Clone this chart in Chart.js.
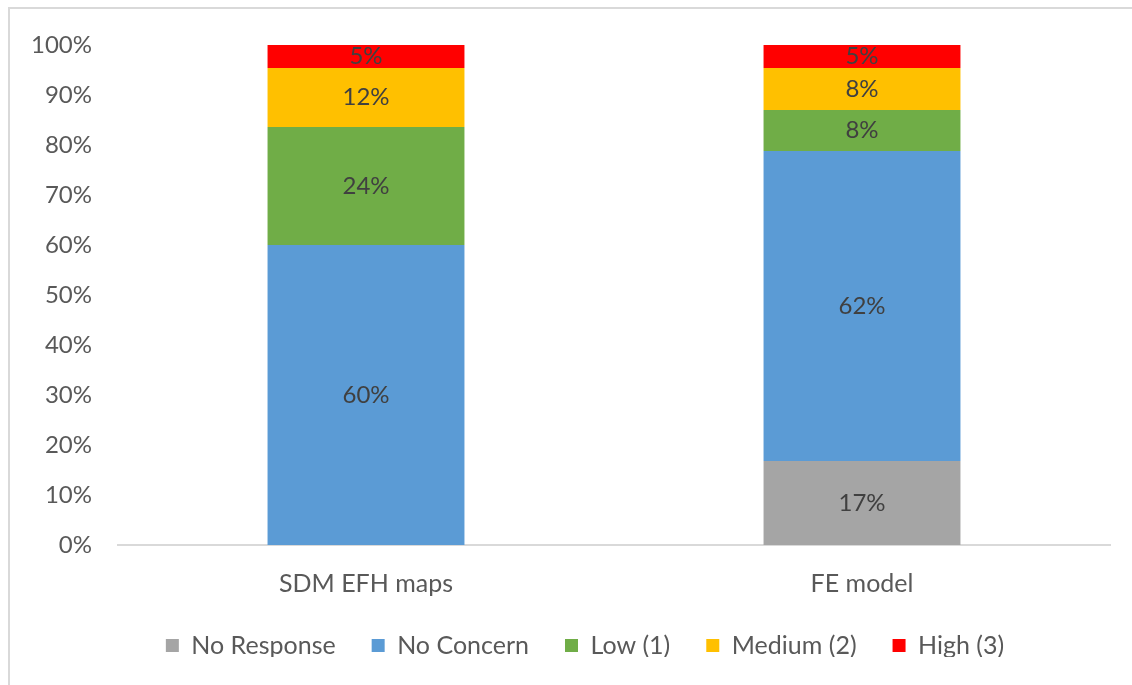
<!DOCTYPE html>
<html>
<head>
<meta charset="utf-8">
<script src="https://cdn.jsdelivr.net/npm/chart.js@4.4.1/dist/chart.umd.min.js"></script>
<style>
  html, body { margin: 0; padding: 0; background: #fff; overflow: hidden; }
  #wrap { position: relative; width: 1132px; height: 685px; }
  #frame { position: absolute; left: 8px; top: 7px; width: 1200px; height: 800px; border: 2px solid #d9d9d9; box-sizing: border-box; }
  canvas { position: absolute; left: 0; top: 0; }
</style>
</head>
<body>
<div id="wrap">
  <div id="frame"></div>
  <canvas id="c" width="1132" height="685"></canvas>
</div>
<script>
const categories = ["SDM EFH maps", "FE model"];
const seriesNames = ["No Response", "No Concern", "Low (1)", "Medium (2)", "High (3)"];
const noResponse = [0, 16.8];
const noConcern = [60.0, 62.0];
const low1 = [23.6, 8.2];
const medium2 = [11.8, 8.4];
const high3 = [4.6, 4.6];
const yTicks = [0, 10, 20, 30, 40, 50, 60, 70, 80, 90, 100];

const colors = ["#A5A5A5", "#5B9BD5", "#70AD47", "#FFC000", "#FF0000"];
const seriesValues = [noResponse, noConcern, low1, medium2, high3];
const FONT = "Lato, 'Open Sans', sans-serif";

const valueLabels = {
  id: 'valueLabels',
  afterDatasetsDraw(chart) {
    const ctx = chart.ctx;
    ctx.save();
    ctx.font = "24px " + FONT;
    ctx.fillStyle = "#404040";
    ctx.textAlign = "center";
    ctx.textBaseline = "middle";
    chart.data.datasets.forEach((ds, di) => {
      const meta = chart.getDatasetMeta(di);
      meta.data.forEach((bar, i) => {
        const v = ds.data[i];
        if (!v) return;
        const p = bar.getProps(['x', 'y', 'base'], true);
        ctx.fillText(Math.round(v) + "%", p.x, (p.y + p.base) / 2);
      });
    });
    ctx.restore();
  }
};

// shift legend block so it is centred like the reference
const legendShift = {
  id: 'legendShift',
  afterLayout(chart) {
    if (chart.legend) { chart.legend.left = 60; }
  }
};

new Chart(document.getElementById('c'), {
  type: 'bar',
  data: {
    labels: categories,
    datasets: seriesNames.map((n, i) => ({
      label: n,
      data: seriesValues[i],
      backgroundColor: colors[i],
      borderWidth: 0,
      categoryPercentage: 1,
      barPercentage: 0.397
    }))
  },
  options: {
    responsive: false,
    animation: false,
    devicePixelRatio: 1,
    layout: { padding: { top: 45, right: 22, left: 0, bottom: 28 } },
    plugins: {
      tooltip: { enabled: false },
      legend: {
        position: 'bottom',
        maxHeight: 60,
        labels: {
          font: { family: FONT, size: 25 },
          color: "#595959",
          boxWidth: 13,
          boxHeight: 13,
          padding: 36
        }
      }
    },
    scales: {
      x: {
        stacked: true,
        grid: { display: false, drawTicks: false },
        border: { display: true, color: "#d9d9d9", width: 2 },
        ticks: { font: { family: FONT, size: 25 }, color: "#595959", padding: 24 },
        afterFit(s) { s.height = 52; }
      },
      y: {
        stacked: true,
        min: 0,
        max: 100,
        afterBuildTicks(s) { s.ticks = yTicks.map(v => ({ value: v })); },
        grid: { display: false, drawTicks: false },
        border: { display: false },
        ticks: {
          font: { family: FONT, size: 24 },
          color: "#595959",
          padding: 26,
          callback: v => v + "%"
        },
        afterFit(s) { s.width = 118; }
      }
    }
  },
  plugins: [valueLabels, legendShift]
});
</script>
</body>
</html>
